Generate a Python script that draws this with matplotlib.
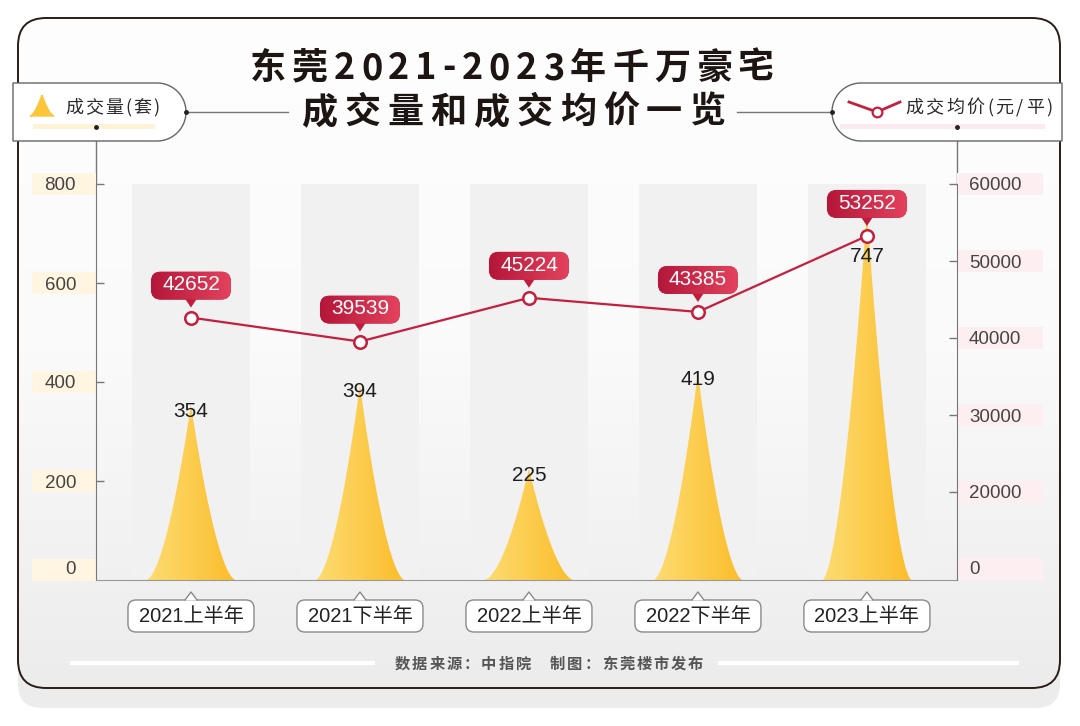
import numpy as np
import matplotlib
matplotlib.use('Agg')
import matplotlib.pyplot as plt
import matplotlib.transforms as mtransforms
from matplotlib.patches import FancyBboxPatch, Polygon, Rectangle
from matplotlib.colors import LinearSegmentedColormap

# data
categories = ['2021上半年', '2021下半年', '2022上半年', '2022下半年', '2023上半年']
volume = [354, 394, 225, 419, 747]                 # 成交量(套)
avg_price = [42652, 39539, 45224, 43385, 53252]    # 成交均价(元/平)
vol_ticks = [200, 400, 600, 800]
price_ticks = [20000, 30000, 40000, 50000, 60000]

plt.rcParams['font.family'] = ['Liberation Sans', 'Noto Sans CJK SC']
CJK = ['Noto Sans CJK SC', 'DejaVu Sans']
RED = '#c41f3e'
DARK = '#1d1512'

fig = plt.figure(figsize=(10.8, 7.26), dpi=100)
fig.patch.set_facecolor('white')
renderer = fig.canvas.get_renderer()


def at(axes, x, y):
    # offsets in inches (1 px = 0.01 in) around a data point
    return fig.dpi_scale_trans + mtransforms.ScaledTranslation(x, y, axes.transData)


def spaced_text(axes, xc, y, s, gap, ha='center', **kw):
    arts = [axes.text(0, y, ch, ha='left', va='baseline', **kw) for ch in s]
    widths = [a.get_window_extent(renderer).width for a in arts]
    total = sum(widths) + gap * (len(s) - 1)
    pos = xc - total / 2 if ha == 'center' else xc
    for a, w in zip(arts, widths):
        a.set_x(pos)
        pos += w + gap


# ---- background card (pixel coordinates) ----
bg = fig.add_axes([0, 0, 1, 1], zorder=0)
bg.axis('off')
bg.add_patch(FancyBboxPatch((18, 40), 1042, 668, boxstyle='round,pad=0,rounding_size=24',
                            fc='#ececec', ec='none', zorder=0))
card = FancyBboxPatch((18, 18), 1042, 670, boxstyle='round,pad=0,rounding_size=28',
                      fc='none', ec='#2a1d18', lw=1.4, zorder=3)
bg.add_patch(card)
card_cmap = LinearSegmentedColormap.from_list('card', ['#fefefe', '#fafafa', '#ececec'])
cim = bg.imshow(np.linspace(0, 1, 256)[:, None], extent=(18, 1060, 688, 18),
                cmap=card_cmap, aspect='auto', zorder=1)
cim.set_clip_path(card)

# legend boxes
r = 29
a = np.radians(np.linspace(-90, 90, 60))
left_box = np.vstack([[13, 83], np.column_stack([157 + r * np.cos(a), 112 + r * np.sin(a)]), [13, 141]])
a = np.radians(np.linspace(270, 90, 60))
right_box = np.vstack([np.column_stack([861 + r * np.cos(a), 112 + r * np.sin(a)]), [1062, 141], [1062, 83]])
for pts in (left_box, right_box):
    bg.add_patch(Polygon(pts, closed=True, fc='white', ec='#666666', lw=1, zorder=4))
bg.add_patch(Rectangle((33, 124), 122, 5, fc='#fff2d6', ec='none', zorder=5))
bg.add_patch(Rectangle((840, 124), 205, 5, fc='#fdeaee', ec='none', zorder=5))

ti = np.linspace(-1, 1, 60)
bg.fill(42 + 12 * ti, 116 - 21 * (1 - np.abs(ti)) ** 1.6, color='#fcc63a', zorder=6)
spaced_text(bg, 65, 113, '成交量(套)', 2, ha='left', fontsize=13, family=CJK,
            color='#2b2b2b', zorder=6)
bg.plot([849, 877, 900], [102, 112, 102], color=RED, lw=2, zorder=6)
bg.plot([877], [112], 'o', ms=7, mfc='white', mec=RED, mew=1.6, zorder=7)
spaced_text(bg, 905, 113, '成交均价(元/平)', 2.5, ha='left', fontsize=13, family=CJK,
            color='#2b2b2b', zorder=6)

# connectors
bg.plot([186, 288], [112, 112], color='#777777', lw=1, zorder=2)
bg.plot([737, 832], [112, 112], color='#777777', lw=1, zorder=2)
bg.plot([96, 96], [127, 184], color='#777777', lw=1, zorder=2)
bg.plot([957, 957], [127, 184], color='#777777', lw=1, zorder=2)
bg.plot([186, 96, 832, 957], [112, 127, 112, 127], 'o', ms=2.5, color='#222222', zorder=7)

# title
spaced_text(bg, 512, 79, '东莞2021-2023年千万豪宅', 5.8, fontsize=26, family=CJK,
            weight='heavy', color=DARK, zorder=6)
spaced_text(bg, 513, 123, '成交量和成交均价一览', 7, fontsize=26, family=CJK,
            weight='heavy', color=DARK, zorder=6)

# footer
bg.plot([72, 373], [663, 663], color='white', lw=3, zorder=4)
bg.plot([720, 1017], [663, 663], color='white', lw=3, zorder=4)
spaced_text(bg, 549, 669, '数据来源：中指院　制图：东莞楼市发布', 2, fontsize=11, family=CJK,
            weight='bold', color='#555555', zorder=6)
bg.set_xlim(0, 1080)
bg.set_ylim(726, 0)

# ---- main chart ----
XLIM = (-0.562, 4.533)
ax = fig.add_axes([96 / 1080, 146 / 726, 861 / 1080, 396 / 726], zorder=2)
ax.patch.set_alpha(0)
x = np.arange(len(categories))
ax.bar(x, vol_ticks[-1], width=0.7, color='#f1f1f1', zorder=0)

spike_cmap = LinearSegmentedColormap.from_list('spike', ['#fddc72', '#fbbd2b'])
hw = 0.265
t = np.linspace(-1, 1, 301)
for xi, v in zip(x, volume):
    poly = Polygon(np.column_stack([xi + hw * t, v * (1 - np.abs(t)) ** 1.7]), closed=True,
                   fc='none', ec='none')
    ax.add_patch(poly)
    img = ax.imshow(np.linspace(0, 1, 100)[None, :], extent=(xi - hw, xi + hw, 0, v),
                    cmap=spike_cmap, aspect='auto', origin='lower', zorder=2)
    img.set_clip_path(poly)

ax.set_xlim(*XLIM)
ax.set_ylim(0, 800)
ax.set_xticks([])
ax.set_yticks(vol_ticks)
ax.tick_params(axis='y', direction='in', length=6, width=1, color='#777777', pad=14.4,
               labelsize=13.5, labelcolor='#444444')
for s in ('top', 'right'):
    ax.spines[s].set_visible(False)
ax.spines['left'].set_color('#777777')
ax.spines['bottom'].set_color('#999999')
ax.annotate('0', (0, 0), xycoords='axes fraction', xytext=(-14.4, 7.2),
            textcoords='offset points', ha='right', va='center', fontsize=13.5, color='#444444')
for v in [0] + vol_ticks:
    dy = 0.10 if v == 0 else 0
    ax.add_patch(Rectangle((-0.64, dy - 0.11), 0.64, 0.22, fc='#fff5e1', ec='none',
                           transform=at(ax, XLIM[0], v), clip_on=False, zorder=0.5))

# category labels
for xi, lab in zip(x, categories):
    tr = at(ax, xi, 0)
    ax.add_patch(FancyBboxPatch((-0.63, -0.52), 1.26, 0.32,
                                boxstyle='round,pad=0,rounding_size=0.08', fc='white',
                                ec='#8a8a8a', lw=1, transform=tr, clip_on=False, zorder=4))
    ax.add_patch(Polygon([(-0.06, -0.205), (0, -0.12), (0.06, -0.205)], closed=True, fc='white',
                         ec='none', transform=tr, clip_on=False, zorder=5))
    ax.plot([-0.06, 0, 0.06], [-0.20, -0.12, -0.20], color='#8a8a8a', lw=1, transform=tr,
            clip_on=False, zorder=5)
    ax.annotate(lab, (xi, 0), xytext=(0, -26), textcoords='offset points', ha='center',
                va='center', fontsize=14.5, color='#222222', zorder=6, annotation_clip=False)

# price line on the right axis
ax2 = ax.twinx()
ax2.set_zorder(3)
ax2.patch.set_alpha(0)
ax2.plot(x, avg_price, color=RED, lw=1.6, marker='o', ms=9, mfc='white', mec=RED, mew=1.8,
         zorder=5)
red_cmap = LinearSegmentedColormap.from_list('red', ['#b5173a', '#e2425c'])
for xi, v in zip(x, avg_price):
    tr = at(ax2, xi, v)
    cb = FancyBboxPatch((-0.40, 0.18), 0.80, 0.28, boxstyle='round,pad=0,rounding_size=0.1',
                        fc=RED, ec='none', transform=tr, clip_on=False, zorder=6)
    ax2.add_patch(cb)
    gi = ax2.imshow(np.linspace(0, 1, 50)[None, :], extent=(-0.40, 0.40, 0.18, 0.46),
                    cmap=red_cmap, aspect='auto', transform=tr, zorder=6.1)
    gi.set_clip_path(cb)
    ax2.add_patch(Polygon([(-0.06, 0.19), (0.06, 0.19), (0, 0.10)], closed=True, fc='#c01d3d',
                          ec='none', transform=tr, clip_on=False, zorder=6))
    ax2.annotate(f'{v}', (xi, v), xytext=(0, 23.5), textcoords='offset points', ha='center',
                 va='center', fontsize=15, color='white', zorder=7, annotation_clip=False)

PRICE_LIM = (60000 - 10000 * 396 / 77, 60000)
ax2.set_xlim(*XLIM)
ax2.set_ylim(*PRICE_LIM)
ax2.set_yticks(price_ticks)
ax2.tick_params(axis='y', direction='in', length=6, width=1, color='#777777', pad=8.6,
                labelsize=13.5, labelcolor='#444444')
for s in ('top', 'left', 'bottom'):
    ax2.spines[s].set_visible(False)
ax2.spines['right'].set_color('#777777')
ax2.annotate('0', (1, 0), xycoords='axes fraction', xytext=(8.6, 7.9),
             textcoords='offset points', ha='left', va='center', fontsize=13.5, color='#444444')
for v in price_ticks + [None]:
    if v is None:
        tr, dy = at(ax2, XLIM[1], PRICE_LIM[0]), 0.11
    else:
        tr, dy = at(ax2, XLIM[1], v), 0
    ax2.add_patch(Rectangle((0, dy - 0.11), 0.86, 0.22, fc='#fdeef1', ec='none',
                            transform=tr, clip_on=False, zorder=0.5))

# volume labels: on the spike tip, or just below the price marker when they would collide
for xi, v, p in zip(x, volume, avg_price):
    tip_y = ax.transData.transform((xi, v))[1]
    mark_y = ax2.transData.transform((xi, p))[1]
    if -40 < tip_y - mark_y < 45:
        ax2.annotate(str(v), (xi, p), xytext=(0, -8), textcoords='offset points',
                     ha='center', va='top', fontsize=15, color='#1e1e1e', zorder=4)
    else:
        ax.annotate(str(v), (xi, v), xytext=(0, 2), textcoords='offset points', ha='center',
                    va='top', fontsize=15, color='#1e1e1e', zorder=4)

ax.set_ylim(0, 800)
ax.set_xlim(*XLIM)
ax2.set_ylim(*PRICE_LIM)

fig.savefig('out.png', dpi=100)
